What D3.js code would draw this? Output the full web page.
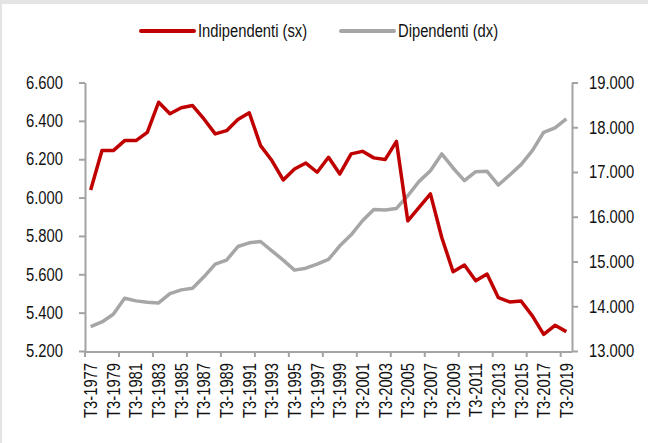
<html>
<head>
    <meta charset="utf-8">
    <title>Indipendenti e dipendenti</title>
    <script src="https://cdn.jsdelivr.net/npm/d3@7/dist/d3.min.js" charset="utf-8"></script>
    <style>
        body { margin: 0; background: #ffffff; }
        svg text { font-family: "Liberation Sans", Arial, sans-serif; fill: #111; }
    </style>
</head>
<body>
<script>
    // anni (T3 di ogni anno)
    var years = d3.range(1977, 2020);
    var labels = years.map(function(y){ return "T3-" + y; });

    // occupati indipendenti, migliaia (asse sx)
    var indipendenti = [6040, 6245, 6245, 6297, 6297, 6340, 6497, 6437, 6468, 6480,
                        6410, 6332, 6349, 6407, 6442, 6271, 6193, 6092, 6149, 6180,
                        6132, 6210, 6123, 6228, 6241, 6207, 6198, 6293, 5879, 5949,
                        6019, 5792, 5613, 5648, 5566, 5601, 5478, 5456, 5461, 5383,
                        5287, 5334, 5301];

    // occupati dipendenti, migliaia (asse dx)
    var dipendenti = [13544, 13649, 13821, 14180, 14120, 14090, 14075, 14283, 14366, 14404,
                      14657, 14941, 15031, 15335, 15418, 15447, 15239, 15031, 14807, 14851,
                      14941, 15045, 15351, 15597, 15911, 16164, 16150, 16186, 16470, 16791,
                      17030, 17404, 17090, 16806, 17008, 17015, 16709, 16933, 17164, 17478,
                      17888, 17986, 18188];

    var leftTicks = [5200, 5400, 5600, 5800, 6000, 6200, 6400, 6600];
    var rightTicks = [13000, 14000, 15000, 16000, 17000, 18000, 19000];

    var width = 648;
    var height = 443;
    var axisColor = "#a3a3a3";

    var svg = d3.select("body")
        .append("svg")
        .attr("width", width)
        .attr("height", height);

    // cornice grigia (ritaglio)
    svg.append("rect").attr("x", 0).attr("y", 0).attr("width", width).attr("height", 4).attr("fill", "#e4e4e4");
    svg.append("rect").attr("x", 0).attr("y", 0).attr("width", 2).attr("height", height).attr("fill", "#e4e4e4");

    var x = d3.scaleBand()
        .domain(labels)
        .range([85, 572]);

    var yL = d3.scaleLinear().domain([5200, 6600]).range([351, 82.5]);
    var yR = d3.scaleLinear().domain([13000, 19000]).range([351, 82.5]);

    var fmt = function(d){ return d3.format(",")(d).replace(/,/g, "."); };

    // assi verticali
    var gl = svg.append("g").attr("transform", "translate(85,0)")
        .call(d3.axisLeft(yL).tickValues(leftTicks).tickFormat(fmt).tickSize(6).tickPadding(16).tickSizeOuter(0));
    var gr = svg.append("g").attr("transform", "translate(572,0)")
        .call(d3.axisRight(yR).tickValues(rightTicks).tickFormat(fmt).tickSize(6).tickPadding(11).tickSizeOuter(0));

    // asse orizzontale: tacche ogni 3 categorie, etichette ogni 2
    var tickPos = d3.range(0, labels.length, 3);
    var gx = svg.append("g").attr("transform", "translate(0,352)");
    gx.append("line")
        .attr("x1", 85).attr("x2", 572)
        .attr("stroke", axisColor).attr("stroke-width", 2);
    gx.selectAll(".tk")
        .data(tickPos)
        .enter().append("line")
        .attr("x1", function(d){ return x(labels[d]); })
        .attr("x2", function(d){ return x(labels[d]); })
        .attr("y1", 0).attr("y2", 5)
        .attr("stroke", axisColor).attr("stroke-width", 2);
    gx.selectAll("text")
        .data(labels.filter(function(d, i){ return i % 2 === 0; }))
        .enter().append("text")
        .attr("transform", function(d){
            return "translate(" + (x(d) + x.bandwidth() / 2) + ",11) rotate(-90)";
        })
        .attr("text-anchor", "end")
        .attr("dy", "0.36em")
        .attr("font-size", "18px")
        .text(function(d){ return d; });

    [gl, gr].forEach(function(g){
        g.select(".domain").attr("stroke", axisColor).attr("stroke-width", 2);
        g.selectAll(".tick line").attr("stroke", axisColor).attr("stroke-width", 2);
        g.selectAll(".tick text").attr("font-size", "18px").attr("fill", "#111")
            .attr("font-family", null);
    });

    var cx = function(d, i){ return x(labels[i]) + x.bandwidth() / 2; };

    svg.append("path")
        .datum(dipendenti)
        .attr("fill", "none")
        .attr("stroke", "#a6a6a6")
        .attr("stroke-width", 3.5)
        .attr("stroke-linejoin", "round")
        .attr("d", d3.line().x(cx).y(function(d){ return yR(d); }));

    svg.append("path")
        .datum(indipendenti)
        .attr("fill", "none")
        .attr("stroke", "#c00000")
        .attr("stroke-width", 3.5)
        .attr("stroke-linejoin", "round")
        .attr("d", d3.line().x(cx).y(function(d){ return yL(d); }));

    // legenda
    var legend = [
        {name: "Indipendenti (sx)", color: "#c00000", x: 141},
        {name: "Dipendenti (dx)", color: "#a6a6a6", x: 341}
    ];
    var lg = svg.selectAll(".lg")
        .data(legend)
        .enter().append("g")
        .attr("transform", function(d){ return "translate(" + d.x + ",31)"; });
    lg.append("line")
        .attr("x1", 0).attr("x2", 53)
        .attr("stroke", function(d){ return d.color; })
        .attr("stroke-width", 4)
        .attr("stroke-linecap", "round");
    lg.append("text")
        .attr("x", 57)
        .attr("dy", "0.36em")
        .attr("font-size", "18px")
        .text(function(d){ return d.name; });

    // carattere "narrow": comprimo in orizzontale come Arial Narrow
    svg.selectAll("text").each(function(){
        var w = this.getComputedTextLength();
        d3.select(this)
            .attr("textLength", w * 0.82)
            .attr("lengthAdjust", "spacingAndGlyphs");
    });
</script>
</body>
</html>
